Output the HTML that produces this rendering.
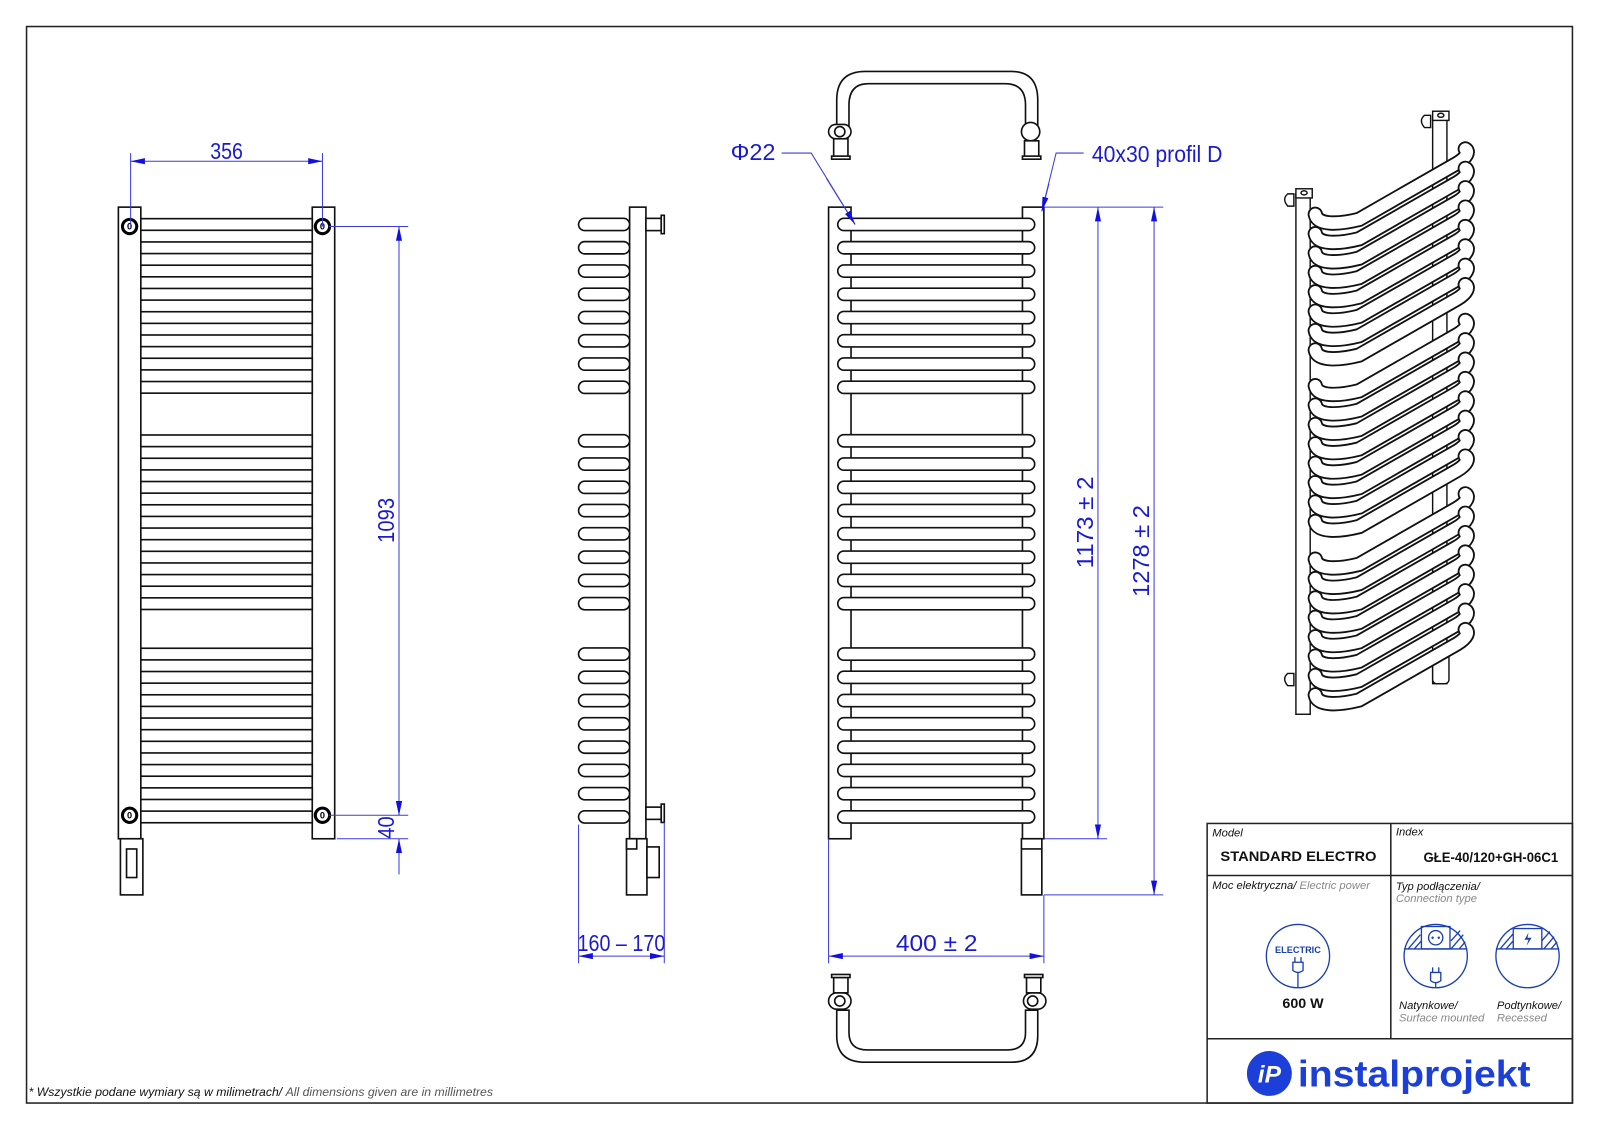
<!DOCTYPE html>
<html><head><meta charset="utf-8"><style>
html,body{margin:0;padding:0;background:#fff;}
svg{display:block;}
.d{font-family:"Liberation Sans","DejaVu Sans",sans-serif;fill:#1a1ad0;font-size:23px;}
.t{font-family:"Liberation Sans",sans-serif;}
</style></head><body>
<svg id="s" width="1600" height="1131" viewBox="0 0 1568 1108.4" xmlns="http://www.w3.org/2000/svg">
<defs>
<marker id="a" markerWidth="14" markerHeight="6" refX="14" refY="3" orient="auto-start-reverse" markerUnits="userSpaceOnUse"><path d="M0,0 L14,3 L0,6z" fill="#1010e0"/></marker>
</defs>
<rect x="26" y="26" width="1515" height="1055" fill="none" stroke="#222" stroke-width="1.5"/>

<!-- LEFT FRONT VIEW -->
<g id="lv" stroke="#111" stroke-width="1.6" fill="#fff">
<rect x="116" y="203" width="22" height="619"/>
<rect x="306" y="203" width="22" height="619"/>
<rect x="118" y="822" width="22" height="55"/>
<rect x="124" y="832" width="10" height="28"/>
</g>
<g fill="#fff" stroke="#000" stroke-width="3">
<circle cx="127" cy="222" r="7"/><circle cx="316" cy="222" r="7"/>
<circle cx="127" cy="799" r="7"/><circle cx="316" cy="799" r="7"/>
</g>
<g font-family="Liberation Sans" font-size="9" text-anchor="middle" font-weight="bold">
<text x="127" y="225">0</text><text x="316" y="225">0</text><text x="127" y="802">0</text><text x="316" y="802">0</text>
</g>

<!-- SIDE VIEW -->
<g stroke="#111" stroke-width="1.6" fill="#fff">
<rect x="617" y="203" width="16" height="619"/>
<rect x="633" y="214" width="15" height="12"/><rect x="648" y="211" width="3" height="18"/>
<rect x="633" y="791" width="15" height="12"/><rect x="648" y="788" width="3" height="18"/>
<rect x="614" y="822" width="20" height="55"/><rect x="614" y="822" width="10" height="10"/>
<rect x="634" y="830" width="12" height="30"/>
</g>

<!-- FRONT VIEW -->
<g stroke="#111" stroke-width="1.6" fill="#fff">
<rect x="812" y="203" width="22" height="619"/>
<rect x="1002" y="203" width="21" height="619"/>
<rect x="1001" y="822" width="20" height="55"/><line x1="1001" y1="832" x2="1021" y2="832"/>
<path d="M820,128 L820,98 Q820,70 848,70 L991,70 Q1017,70 1017,98 L1017,128 L1005,128 L1005,103 Q1005,82 985,82 L851,82 Q832,82 832,103 L832,128 Z"/>
<rect x="812" y="122" width="22" height="14" rx="7"/><circle cx="823" cy="129" r="5"/>
<rect x="817" y="136" width="14" height="18"/><rect x="815" y="153" width="18" height="3"/>
<circle cx="1010" cy="129" r="9"/><rect x="1004" y="138" width="14" height="16"/><rect x="1002" y="153" width="18" height="3"/>
<path d="M820,990 L820,1015 Q820,1041 848,1041 L991,1041 Q1017,1041 1017,1015 L1017,990 L1005,990 L1005,1012 Q1005,1029 987,1029 L850,1029 Q832,1029 832,1012 L832,990 Z"/>
<rect x="812" y="973" width="22" height="16" rx="8"/><circle cx="823" cy="981" r="5"/>
<rect x="817" y="958" width="14" height="15"/><rect x="815" y="955" width="18" height="3"/>
<rect x="1003" y="973" width="22" height="16" rx="8"/><circle cx="1012" cy="981" r="5"/>
<rect x="1006" y="958" width="14" height="15"/><rect x="1004" y="955" width="18" height="3"/>
</g>
<g id="tubes" stroke="#111" stroke-width="1.6" fill="#fff"></g>

<!-- 3D VIEW -->
<g stroke="#111" stroke-width="1.4" fill="#fff">
<rect x="1404" y="115" width="14" height="555"/>
<rect x="1404" y="640" width="16" height="30" rx="4"/>
<rect x="1270" y="190" width="14" height="510"/>
<path d="M1262,190 q-6,5 0,12 l6,0 l0,-12z"/><path d="M1262,660 q-6,5 0,12 l6,0 l0,-12z"/>
<path d="M1396,113 q-6,5 0,12 l6,0 l0,-12z"/>
<rect x="1270" y="185" width="16" height="9"/><ellipse cx="1278" cy="189" rx="3" ry="2"/>
<rect x="1404" y="109" width="16" height="9"/><ellipse cx="1412" cy="113" rx="3" ry="2"/>
</g>
<g id="iso"></g>

<!-- DIMENSIONS -->
<g stroke="#3a3ae0" stroke-width="1" fill="none">
<line x1="128" y1="150" x2="128" y2="222"/><line x1="316" y1="150" x2="316" y2="222"/>
<line x1="128" y1="158" x2="316" y2="158" marker-start="url(#a)" marker-end="url(#a)"/>
<line x1="322" y1="222" x2="400" y2="222"/><line x1="322" y1="799" x2="400" y2="799"/><line x1="330" y1="822" x2="400" y2="822"/>
<line x1="391" y1="222" x2="391" y2="799" marker-start="url(#a)" marker-end="url(#a)"/>
<line x1="391" y1="785" x2="391" y2="799" marker-end="url(#a)"/>
<line x1="391" y1="857" x2="391" y2="822" marker-end="url(#a)"/>
<line x1="567" y1="808" x2="567" y2="944"/><line x1="651" y1="806" x2="651" y2="944"/>
<line x1="567" y1="937" x2="651" y2="937" marker-start="url(#a)" marker-end="url(#a)"/>
<line x1="812" y1="822" x2="812" y2="944"/><line x1="1023" y1="877" x2="1023" y2="944"/>
<line x1="812" y1="937" x2="1023" y2="937" marker-start="url(#a)" marker-end="url(#a)"/>
<line x1="1023" y1="203" x2="1140" y2="203"/><line x1="1023" y1="822" x2="1085" y2="822"/><line x1="1023" y1="877" x2="1140" y2="877"/>
<line x1="1076" y1="203" x2="1076" y2="822" marker-start="url(#a)" marker-end="url(#a)"/>
<line x1="1131" y1="203" x2="1131" y2="877" marker-start="url(#a)" marker-end="url(#a)"/>
<polyline points="766,150 795,150 838,220"/>
<line x1="810" y1="175" x2="838" y2="220" marker-end="url(#a)"/>
<polyline points="1062,150 1035,150 1021,207"/>
<line x1="1028" y1="180" x2="1021" y2="207" marker-end="url(#a)"/>
</g>
<g class="d">
<text x="206" y="156" textLength="32" lengthAdjust="spacingAndGlyphs">356</text>
<text transform="translate(386,510) rotate(-90)" text-anchor="middle" textLength="44" lengthAdjust="spacingAndGlyphs">1093</text>
<text transform="translate(386,811) rotate(-90)" text-anchor="middle" textLength="22" lengthAdjust="spacingAndGlyphs">40</text>
<text x="566" y="932" textLength="86" lengthAdjust="spacingAndGlyphs">160 – 170</text>
<text x="878" y="932" textLength="80" lengthAdjust="spacingAndGlyphs">400  ± 2</text>
<text transform="translate(1071,512) rotate(-90)" text-anchor="middle" textLength="90" lengthAdjust="spacingAndGlyphs">1173  ± 2</text>
<text transform="translate(1126,540) rotate(-90)" text-anchor="middle" textLength="90" lengthAdjust="spacingAndGlyphs">1278  ± 2</text>
<text x="716" y="157" textLength="44" lengthAdjust="spacingAndGlyphs">Φ22</text>
<text x="1070" y="159" textLength="128" lengthAdjust="spacingAndGlyphs">40x30 profil D</text>
</g>

<!-- TITLE BLOCK -->
<g stroke="#222" stroke-width="1.5" fill="none">
<rect x="1183" y="807" width="358" height="274"/>
<line x1="1363" y1="807" x2="1363" y2="1018"/>
<line x1="1183" y1="858" x2="1541" y2="858"/>
<line x1="1183" y1="1018" x2="1541" y2="1018"/>
</g>
<g class="t" font-size="11" font-style="italic" fill="#111">
<text x="1188" y="820">Model</text>
<text x="1368" y="819">Index</text>
<text x="1188" y="871">Moc elektryczna/ <tspan fill="#888">Electric power</tspan></text>
<text x="1368" y="872">Typ podłączenia/</text>
<text x="1368" y="884" fill="#888">Connection type</text>
<text x="1371" y="989">Natynkowe/</text>
<text x="1371" y="1001" fill="#888">Surface mounted</text>
<text x="1467" y="989">Podtynkowe/</text>
<text x="1467" y="1001" fill="#888">Recessed</text>
</g>
<g class="t" font-weight="bold" fill="#111" font-size="14">
<text x="1196" y="844" textLength="153" lengthAdjust="spacingAndGlyphs">STANDARD ELECTRO</text>
<text x="1395" y="845" textLength="132" lengthAdjust="spacingAndGlyphs">GŁE-40/120+GH-06C1</text>
<text x="1277" y="988" text-anchor="middle">600 W</text>
</g>
<g stroke="#1a3fb0" stroke-width="1.3" fill="none">
<circle cx="1272" cy="937" r="31"/>
<circle cx="1407" cy="937" r="31"/>
<circle cx="1497" cy="937" r="31"/>
<path d="M1267,943 h10 v8 q-5,4 -10,0z M1269,943 v-5 M1275,943 v-5 M1272,953 v15"/>
<path d="M1402,953 h10 v8 q-5,4 -10,0z M1404,953 v-5 M1410,953 v-5 M1407,963 v5"/>
<rect x="1393" y="908" width="28" height="22"/><circle cx="1407" cy="919" r="7"/>
<line x1="1376" y1="930" x2="1438" y2="930"/><line x1="1466" y1="930" x2="1528" y2="930"/>
<rect x="1483" y="910" width="28" height="20"/>
<path d="M1380,930 l12,-14 M1386,930 l7,-8 M1422,922 l9,-10 M1422,930 l12,-14 M1430,930 l6,-7 M1470,930 l13,-15 M1476,930 l7,-8 M1511,922 l8,-9 M1513,930 l10,-12 M1520,930 l6,-7"/>
</g>
<circle cx="1404" cy="919" r="1.2" fill="#1a3fb0"/><circle cx="1410" cy="919" r="1.2" fill="#1a3fb0"/>
<path d="M1498,914 l-4,7 h4 l-2,6 l5,-8 h-4z" fill="#1a3fb0"/>
<text x="1272" y="934" class="t" font-size="9" font-weight="bold" fill="#1a3fb0" text-anchor="middle">ELECTRIC</text>
<circle cx="1244" cy="1052" r="22" fill="#1b3fd8"/>
<text x="1244" y="1061" class="t" font-size="24" font-weight="bold" font-style="italic" fill="#fff" text-anchor="middle">iP</text>
<text x="1272" y="1065" class="t" font-size="36" font-weight="bold" fill="#1b3fd8" textLength="228" lengthAdjust="spacingAndGlyphs">instalprojekt</text>
<text x="28" y="1074" class="t" font-size="12" font-style="italic" fill="#111">* Wszystkie podane wymiary są w milimetrach/ <tspan fill="#555">All dimensions given are in millimetres</tspan></text>
</svg>
<script>
var NS="http://www.w3.org/2000/svg";
function el(p,n,a){var e=document.createElementNS(NS,n);for(var k in a)e.setAttribute(k,a[k]);p.appendChild(e);return e;}
var lv=document.getElementById("lv"),tb=document.getElementById("tubes"),iso=document.getElementById("iso");
var starts=[220,432,641],ys=[];
starts.forEach(function(s){for(var i=0;i<8;i++)ys.push(s+i*22.8);});
ys.forEach(function(y){
 el(lv,"rect",{x:138,y:y-5.7,width:168,height:11.4});
 el(tb,"rect",{x:567,y:y-6,width:50,height:12,rx:6});
 el(tb,"rect",{x:821,y:y-6,width:193,height:12,rx:6});
});
var isoStarts=[210,378,548],iy=[];
isoStarts.forEach(function(s){for(var i=0;i<8;i++)iy.push(s+i*19);});
iy.forEach(function(y){
 var d="M1289,"+y+" C1291,"+(y+11)+" 1312,"+(y+10)+" 1332,"+(y+5)+" L1428,"+(y-50)+" C1438,"+(y-56)+" 1440,"+(y-62)+" 1436,"+(y-64);
 el(iso,"path",{d:d,stroke:"#111","stroke-width":15,fill:"none","stroke-linecap":"round"});
 el(iso,"path",{d:d,stroke:"#fff","stroke-width":11.4,fill:"none","stroke-linecap":"round"});
});
</script>
</body></html>
